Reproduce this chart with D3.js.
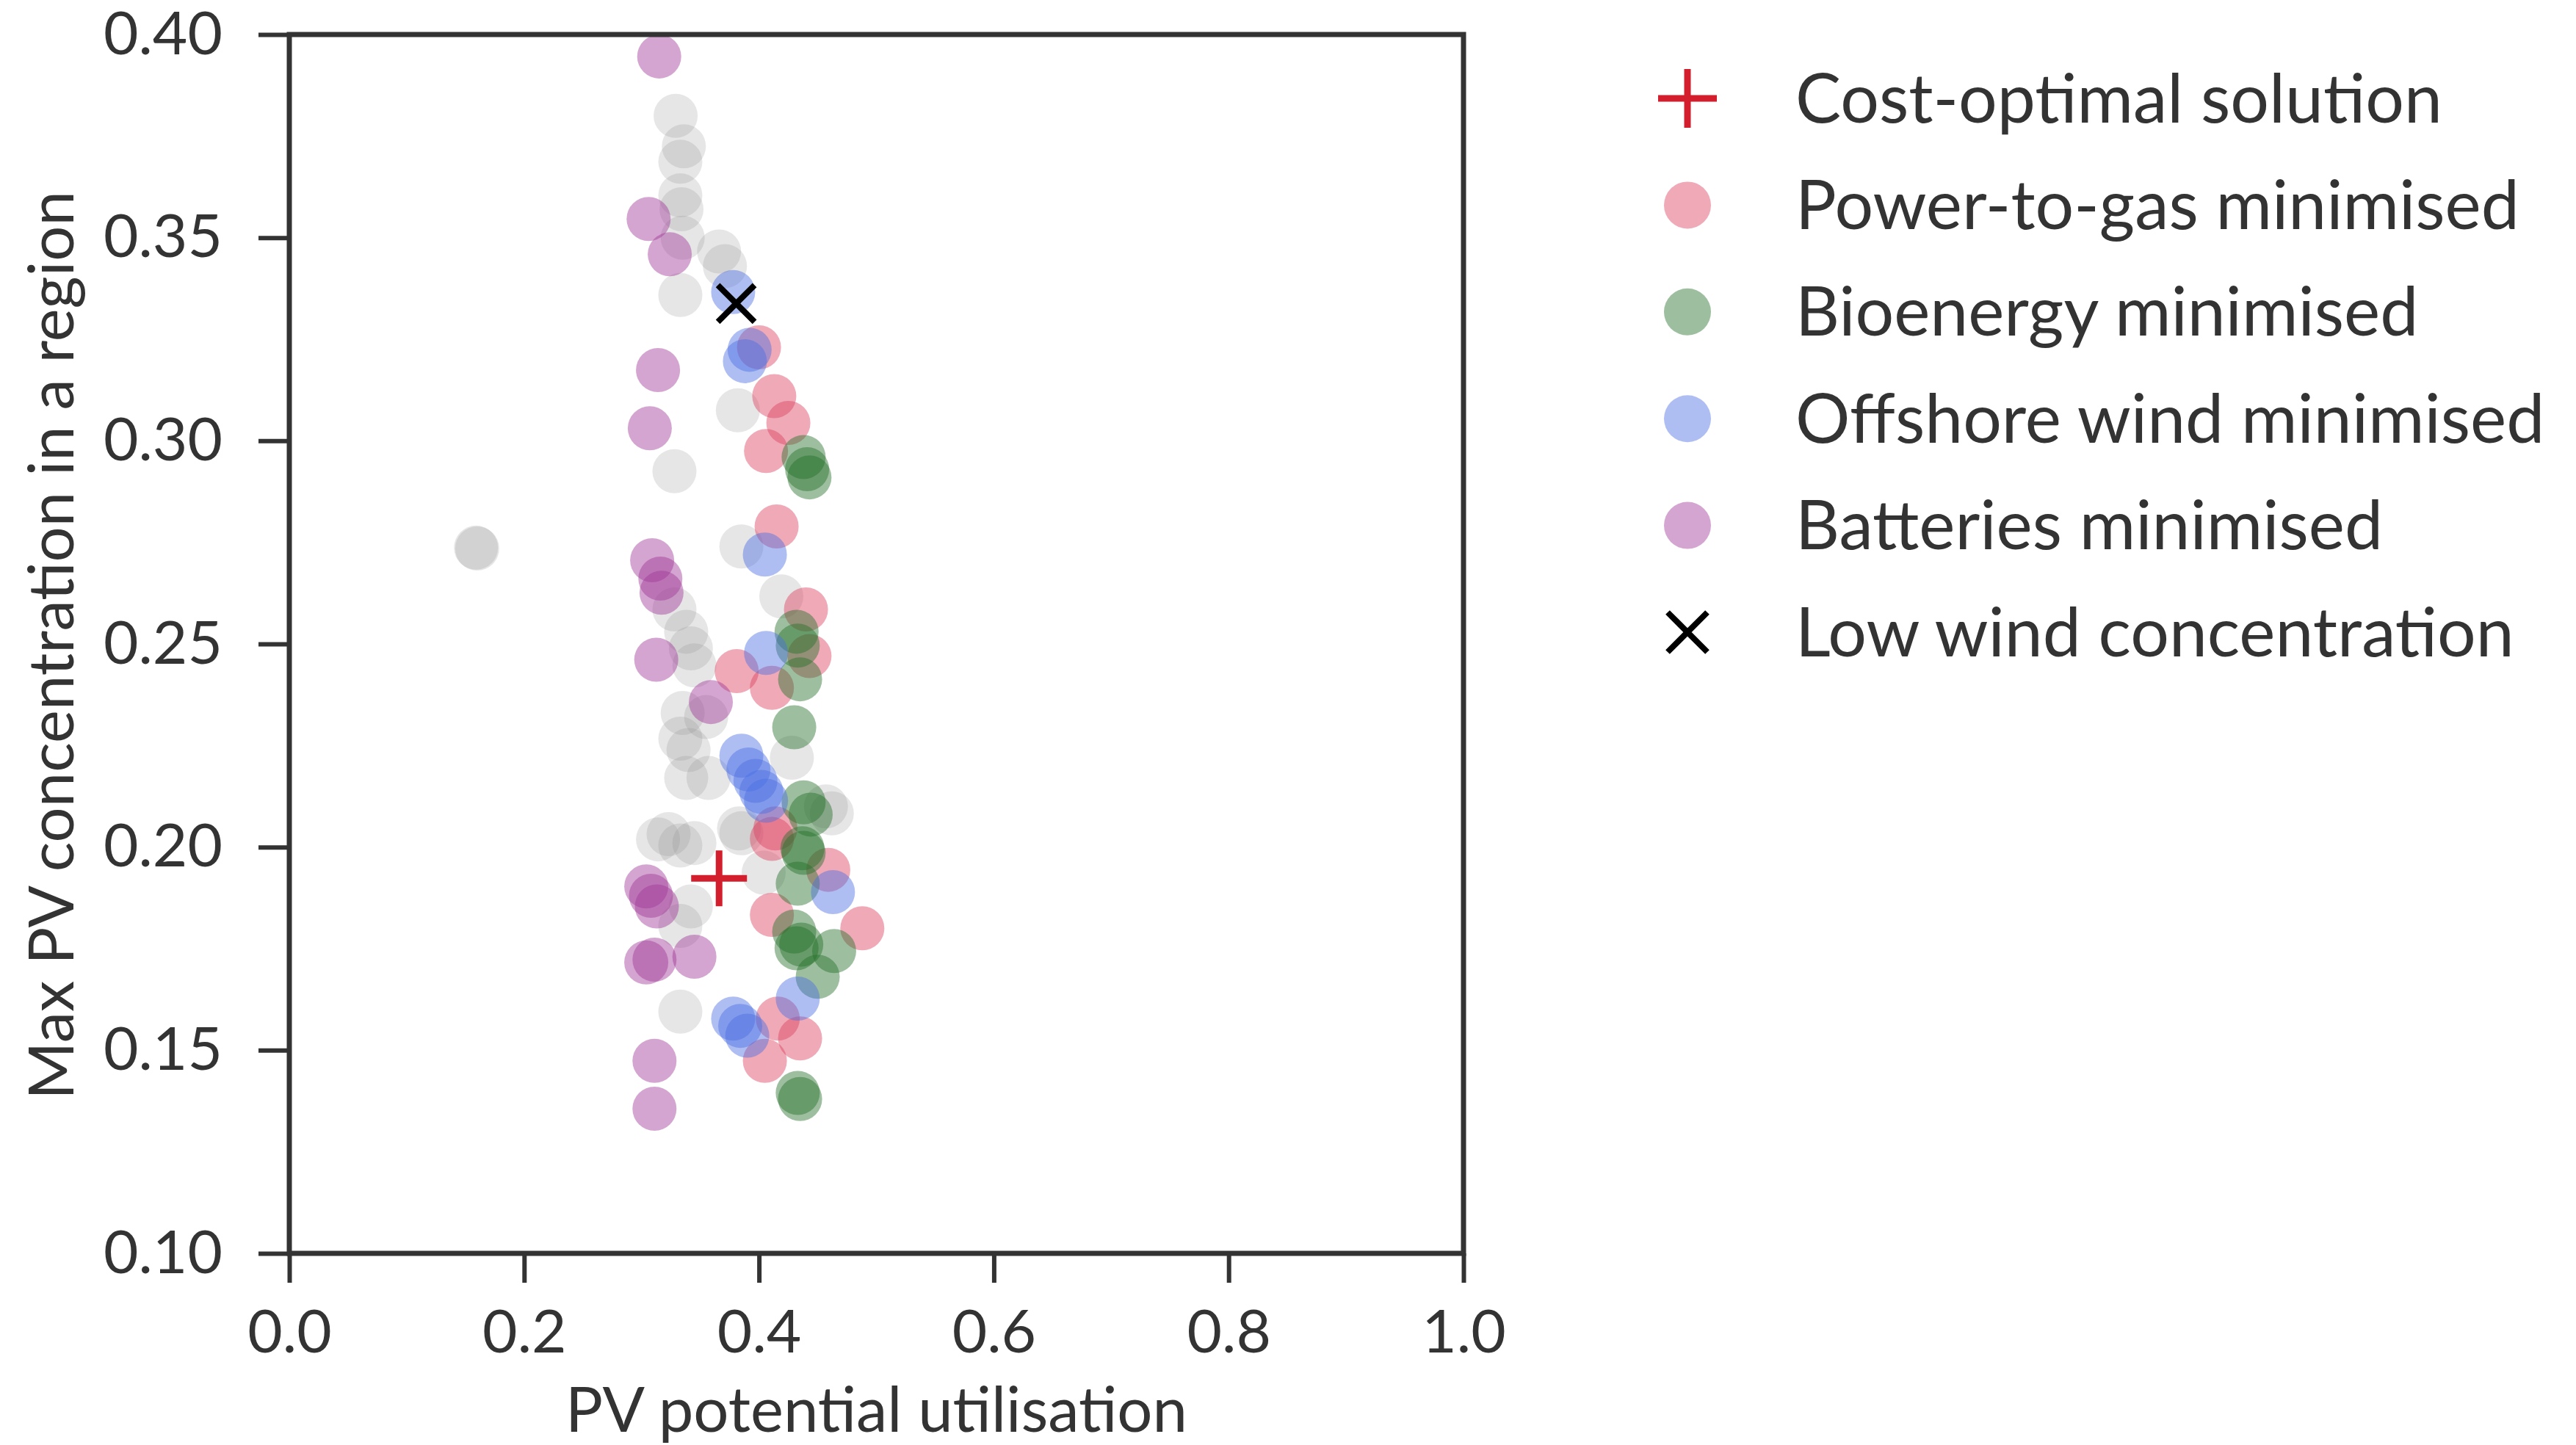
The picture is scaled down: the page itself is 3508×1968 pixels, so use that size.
<!DOCTYPE html>
<html>
<head>
<meta charset="utf-8">
<script src="https://cdnjs.cloudflare.com/ajax/libs/d3/7.8.5/d3.min.js"></script>
<style>
  body { margin: 0; background: #fff; }
  text { font-family: Lato, "Open Sans", sans-serif; fill: #333; }
</style>
</head>
<body>
<div class="chart-container"></div>
<script>
// data: [PV potential utilisation, max PV concentration]
var otherSolutions = [
  [0.329,0.380],[0.336,0.3725],[0.333,0.3687],[0.333,0.3604],[0.334,0.357],[0.335,0.350],
  [0.366,0.3466],[0.371,0.343],[0.333,0.3359],[0.382,0.3075],[0.328,0.2925],[0.159,0.2737],
  [0.160,0.2735],[0.385,0.274],[0.419,0.2617],[0.328,0.2585],[0.338,0.253],[0.342,0.2489],
  [0.345,0.2447],[0.335,0.233],[0.333,0.2267],[0.340,0.2239],[0.338,0.217],[0.357,0.217],
  [0.428,0.222],[0.457,0.210],[0.462,0.2083],[0.323,0.2032],[0.333,0.2004],[0.345,0.201],
  [0.314,0.2019],[0.383,0.2046],[0.385,0.2034],[0.404,0.1937],[0.342,0.1854],[0.333,0.1806],
  [0.333,0.1595],[0.355,0.232]
];
var powerToGas = [
  [0.400,0.323],[0.413,0.311],[0.425,0.3044],[0.406,0.2975],[0.415,0.2789],[0.440,0.2585],
  [0.443,0.247],[0.381,0.2433],[0.411,0.2392],[0.414,0.2046],[0.411,0.202],[0.459,0.1944],
  [0.411,0.1833],[0.488,0.180],[0.416,0.1578],[0.435,0.1529],[0.405,0.1474]
];
var bioenergy = [
  [0.438,0.296],[0.441,0.293],[0.443,0.291],[0.432,0.253],[0.433,0.2496],[0.435,0.2413],
  [0.430,0.2295],[0.438,0.211],[0.444,0.208],[0.437,0.1997],[0.438,0.1986],[0.433,0.191],
  [0.430,0.1792],[0.432,0.1751],[0.436,0.176],[0.464,0.1744],[0.450,0.1681],[0.433,0.1395],
  [0.435,0.138]
];
var offshoreWind = [
  [0.378,0.3366],[0.392,0.3224],[0.388,0.3196],[0.405,0.272],[0.406,0.2478],[0.385,0.2225],
  [0.391,0.2191],[0.397,0.2163],[0.402,0.2136],[0.406,0.2114],[0.463,0.1889],[0.433,0.1627],
  [0.378,0.1578],[0.390,0.1536],[0.384,0.156]
];
var batteries = [
  [0.315,0.3946],[0.306,0.3546],[0.324,0.3459],[0.314,0.3174],[0.307,0.3031],[0.309,0.2706],
  [0.316,0.2661],[0.317,0.2626],[0.3125,0.2461],[0.359,0.2357],[0.304,0.1903],[0.308,0.188],
  [0.313,0.1854],[0.304,0.1716],[0.311,0.1723],[0.345,0.173],[0.311,0.1474],[0.311,0.1356]
];
var costOptimal = [[0.366, 0.1923]];
var lowWind = [[0.3806, 0.3338]];

var xTicks = [0.0, 0.2, 0.4, 0.6, 0.8, 1.0];
var yTicks = [0.10, 0.15, 0.20, 0.25, 0.30, 0.35, 0.40];
var legendLabels = ["Cost-optimal solution", "Power-to-gas minimised", "Bioenergy minimised",
                    "Offshore wind minimised", "Batteries minimised", "Low wind concentration"];

// the dot series, drawn back to front
var dotSeries = [
  {data: otherSolutions, color: "#8c8c8c", opacity: 0.22},
  {data: powerToGas, color: "#db4060", opacity: 0.45},
  {data: bioenergy, color: "#25712a", opacity: 0.45},
  {data: offshoreWind, color: "#4b6ee2", opacity: 0.45},
  {data: batteries, color: "#9f3797", opacity: 0.45}
];

var margin = {top: 47, right: 1515, bottom: 261, left: 394},
    fullWidth = 3508, fullHeight = 1968,
    width = fullWidth - margin.left - margin.right,
    height = fullHeight - margin.top - margin.bottom;

var x = d3.scaleLinear().domain([0, 1]).range([0, width]);
var y = d3.scaleLinear().domain([0.10, 0.40]).range([height, 0]);

var svg = d3.select(".chart-container").append("svg")
    .attr("width", fullWidth)
    .attr("height", fullHeight)
  .append("g")
    .attr("transform", "translate(" + margin.left + "," + margin.top + ")");

var radius = 30;

dotSeries.forEach(function(s) {
  svg.append("g").selectAll("circle")
      .data(s.data)
    .enter().append("circle")
      .attr("cx", function(d) { return x(d[0]); })
      .attr("cy", function(d) { return y(d[1]); })
      .attr("r", radius)
      .attr("fill", s.color)
      .attr("fill-opacity", s.opacity);
});

// plus and x markers
function plusPath(s) { return "M" + (-s) + ",0H" + s + "M0," + (-s) + "V" + s; }
function crossPath(s) { return "M" + (-s) + "," + (-s) + "L" + s + "," + s + "M" + (-s) + "," + s + "L" + s + "," + (-s); }

svg.selectAll(".cost")
    .data(costOptimal)
  .enter().append("path")
    .attr("class", "cost")
    .attr("transform", function(d) { return "translate(" + x(d[0]) + "," + y(d[1]) + ")"; })
    .attr("d", plusPath(38))
    .attr("stroke", "#d31f2d")
    .attr("stroke-width", 9)
    .attr("fill", "none");

svg.selectAll(".lowwind")
    .data(lowWind)
  .enter().append("path")
    .attr("class", "lowwind")
    .attr("transform", function(d) { return "translate(" + x(d[0]) + "," + y(d[1]) + ")"; })
    .attr("d", crossPath(25))
    .attr("stroke", "#000")
    .attr("stroke-width", 8)
    .attr("fill", "none");

// axes
var xAxis = svg.append("g")
    .attr("transform", "translate(0," + height + ")")
    .call(d3.axisBottom(x).tickValues(xTicks).tickFormat(d3.format(".1f")).tickSize(40).tickPadding(37));
var yAxis = svg.append("g")
    .call(d3.axisLeft(y).tickValues(yTicks).tickFormat(d3.format(".2f")).tickSize(42).tickPadding(49));

[xAxis, yAxis].forEach(function(a) {
  a.select(".domain").remove();
  a.selectAll("line").attr("stroke", "#333").attr("stroke-width", 6);
  a.selectAll("text").attr("font-size", 82).style("fill", "#333");
});
xAxis.selectAll("text").attr("dy", "0.71em");

// frame
svg.append("rect")
    .attr("width", width)
    .attr("height", height)
    .attr("fill", "none")
    .attr("stroke", "#333")
    .attr("stroke-width", 7);

svg.append("text")
    .attr("x", width / 2)
    .attr("y", height + 243)
    .attr("text-anchor", "middle")
    .attr("font-size", 85)
    .text("PV potential utilisation");

svg.append("text")
    .attr("transform", "translate(" + (-294) + "," + (height / 2 + 2) + ") rotate(-90)")
    .attr("text-anchor", "middle")
    .attr("font-size", 85)
    .text("Max PV concentration in a region");

// legend
var legend = svg.append("g")
    .attr("transform", "translate(" + (2298 - margin.left) + "," + (134 - margin.top) + ")");
var rowStep = 145.4;

legend.append("path")
    .attr("d", plusPath(40))
    .attr("stroke", "#d31f2d")
    .attr("stroke-width", 9)
    .attr("fill", "none");

dotSeries.slice(1).forEach(function(s, i) {
  legend.append("circle")
      .attr("cy", (i + 1) * rowStep)
      .attr("r", radius + 2)
      .attr("fill", s.color)
      .attr("fill-opacity", s.opacity);
});

legend.append("path")
    .attr("transform", "translate(0," + 5 * rowStep + ")")
    .attr("d", crossPath(27))
    .attr("stroke", "#000")
    .attr("stroke-width", 8)
    .attr("fill", "none");

legend.selectAll(".label")
    .data(legendLabels)
  .enter().append("text")
    .attr("class", "label")
    .attr("x", 147)
    .attr("y", function(d, i) { return i * rowStep; })
    .attr("dy", "0.35em")
    .attr("font-size", 93)
    .text(function(d) { return d; });
</script>
</body>
</html>
